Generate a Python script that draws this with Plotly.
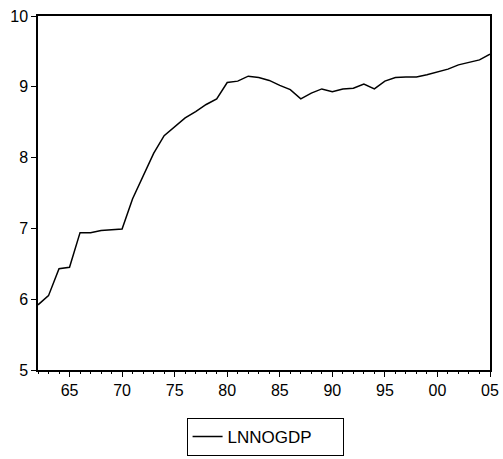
import plotly.graph_objects as go

# Log of non-oil GDP, annual observations 1962-2005
years = list(range(1962, 2006))
lnnogdp = [
    5.92, 6.05, 6.43, 6.45, 6.94, 6.94, 6.97, 6.98, 6.99, 7.42,
    7.73, 8.06, 8.31, 8.43, 8.56, 8.65, 8.75, 8.83, 9.06, 9.08,
    9.15, 9.13, 9.09, 9.02, 8.96, 8.83, 8.91, 8.97, 8.93, 8.97,
    8.98, 9.04, 8.97, 9.08, 9.13, 9.14, 9.14, 9.17, 9.21, 9.25,
    9.31, 9.34, 9.38, 9.46,
]
x_tickvals = [1965, 1970, 1975, 1980, 1985, 1990, 1995, 2000, 2005]
x_ticktext = ["65", "70", "75", "80", "85", "90", "95", "00", "05"]
y_tickvals = [5, 6, 7, 8, 9, 10]

fig = go.Figure()
fig.add_trace(go.Scatter(
    x=years, y=lnnogdp, mode="lines", name="LNNOGDP",
    line=dict(color="black", width=1.5),
))

font = "Liberation Sans, Arial, sans-serif"
fig.update_layout(
    width=503, height=459,
    margin=dict(l=38, r=13, t=16, b=89, autoexpand=False),
    plot_bgcolor="white", paper_bgcolor="white",
    font=dict(family=font, size=16, color="black"),
    showlegend=True,
    legend=dict(
        orientation="h", xref="container", yref="container",
        x=0.527, xanchor="center", y=0.0479, yanchor="middle",
        bordercolor="black", borderwidth=1, bgcolor="white",
        font=dict(family=font, size=17, color="black"),
        itemwidth=30, entrywidth=110,
    ),
)
fig.update_xaxes(
    range=[1962, 2005], tickvals=x_tickvals, ticktext=x_ticktext,
    automargin=False,
    showgrid=False, zeroline=False,
    showline=True, linecolor="black", linewidth=1.5, mirror=True,
    ticks="outside", ticklen=5, tickcolor="black",
    minor=dict(ticks="outside", ticklen=2, dtick=1, tick0=1962, tickcolor="black", showgrid=False),
    tickfont=dict(family=font, size=16),
)
fig.update_yaxes(
    range=[5, 10], tickvals=y_tickvals,
    automargin=False,
    showgrid=False, zeroline=False,
    showline=True, linecolor="black", linewidth=1.5, mirror=True,
    ticks="outside", ticklen=5, tickcolor="black",
    tickfont=dict(family=font, size=16),
)

fig.write_html("out.html")
